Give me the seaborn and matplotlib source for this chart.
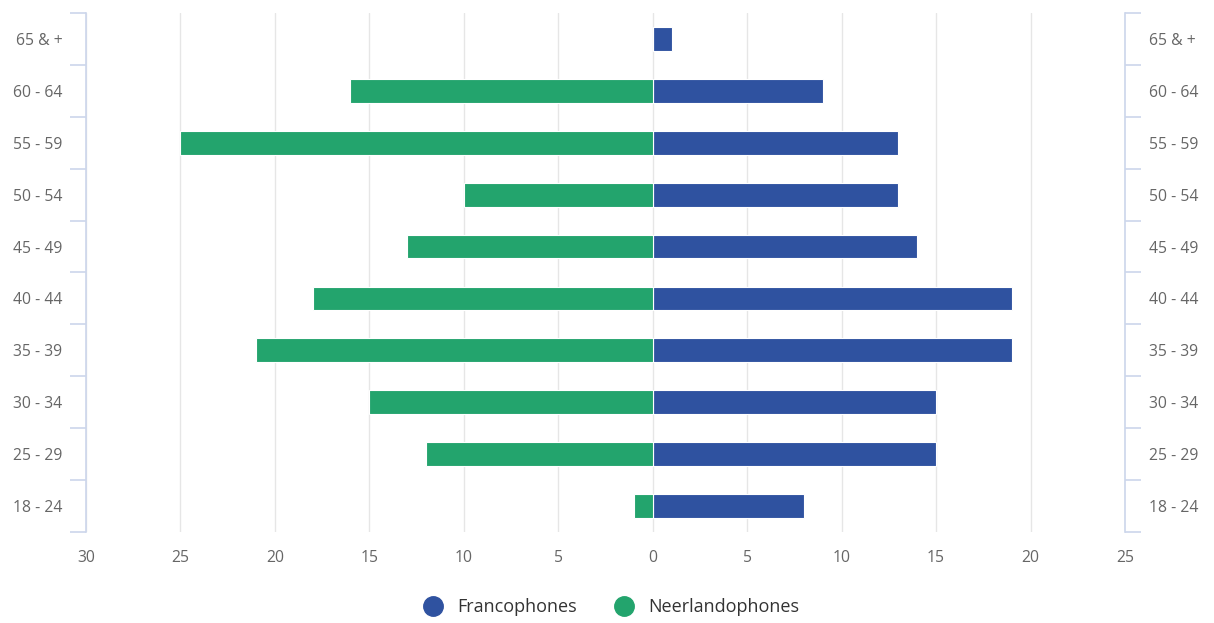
import pandas as pd
import seaborn as sns
import matplotlib.pyplot as plt
import numpy as np
from matplotlib.lines import Line2D
from matplotlib.ticker import FixedLocator, FuncFormatter

# Datos
tranches = ["65 & +", "60 - 64", "55 - 59", "50 - 54", "45 - 49",
            "40 - 44", "35 - 39", "30 - 34", "25 - 29", "18 - 24"]
francophones = [1, 9, 13, 13, 14, 19, 19, 15, 15, 8]
neerlandophones = [0, 16, 25, 10, 13, 18, 21, 15, 12, 1]

couleurs = {"Francophones": "#2f52a0", "Neerlandophones": "#23a46d"}

df = pd.DataFrame({
    "tranche": tranches * 2,
    "valeur": francophones + [-v for v in neerlandophones],
    "groupe": ["Francophones"] * len(tranches) + ["Neerlandophones"] * len(tranches),
})

sns.set_style("white")
plt.rcParams["font.family"] = ["Open Sans", "DejaVu Sans"]

fig = plt.figure(figsize=(12.14, 6.23), dpi=100)
ax = fig.add_axes([86 / 1214, 1 - 532 / 623, (1125 - 86) / 1214, (532 - 13) / 623])

sns.barplot(data=df, x="valeur", y="tranche", hue="groupe", order=tranches,
            palette=couleurs, saturation=1, dodge=False, width=0.46, orient="h",
            edgecolor="white", linewidth=0.8, legend=False, ax=ax, zorder=3)

ax.set_xlim(-30, 25)
ax.set_ylim(len(tranches) - 0.5, -0.5)
ax.xaxis.set_major_locator(FixedLocator(np.arange(-30, 26, 5)))
ax.xaxis.set_major_formatter(FuncFormatter(lambda v, p: f"{abs(int(v))}"))
ax.grid(axis="x", color="#e6e6e6", linewidth=1, zorder=0)
ax.grid(axis="y", visible=False)
ax.set_xlabel("")
ax.set_ylabel("")

for s in ["top", "right", "bottom"]:
    ax.spines[s].set_visible(False)
ax.spines["left"].set_color("#ccd6eb")
ax.spines["left"].set_linewidth(1.2)

axe_gris = "#666666"
taille = 11.3
ax.tick_params(axis="x", length=0, pad=13, labelsize=taille, labelcolor=axe_gris)
ax.tick_params(axis="y", which="major", length=0, pad=17, labelsize=taille, labelcolor=axe_gris)
bornes = np.arange(-0.5, len(tranches), 1)
ax.yaxis.set_minor_locator(FixedLocator(bornes))
ax.tick_params(axis="y", which="minor", length=11.5, color="#ccd6eb", width=1.2)

ax2 = ax.twinx()
ax2.set_ylim(ax.get_ylim())
ax2.set_yticks(range(len(tranches)))
ax2.set_yticklabels(tranches)
ax2.yaxis.set_minor_locator(FixedLocator(bornes))
ax2.tick_params(axis="y", which="major", length=0, pad=17, labelsize=taille, labelcolor=axe_gris)
ax2.tick_params(axis="y", which="minor", length=11.5, color="#ccd6eb", width=1.2)
for s in ["top", "left", "bottom"]:
    ax2.spines[s].set_visible(False)
ax2.spines["right"].set_color("#ccd6eb")
ax2.spines["right"].set_linewidth(1.2)
ax2.grid(False)

# Légende
poignees = [Line2D([0], [0], marker="o", linestyle="", markersize=14,
                   markerfacecolor=couleurs[g], markeredgecolor=couleurs[g], label=g)
            for g in couleurs]
fig.legend(handles=poignees, loc="center", bbox_to_anchor=(607 / 1214, 1 - 607 / 623),
           ncol=2, frameon=False, fontsize=13, handletextpad=0.35, columnspacing=1.6,
           labelcolor="#333333")

plt.savefig("out.png", dpi=100)
